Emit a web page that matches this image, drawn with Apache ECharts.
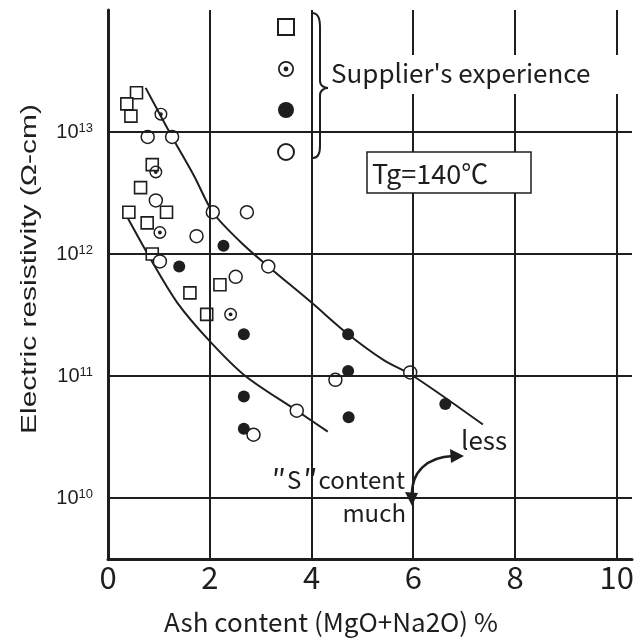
<!DOCTYPE html>
<html>
<head>
<meta charset="utf-8">
<title>Electric resistivity vs ash content</title>
<script src="https://cdn.jsdelivr.net/npm/echarts@6/dist/echarts.min.js"></script>
<style>
  html, body { margin: 0; padding: 0; background: #fff; }
  #main { width: 640px; height: 639px; }
</style>
</head>
<body>
<div id="main"></div>
<script>
// data: [ash content %, resistivity ohm-cm]
var squarePts = [[0.56, 2.1e13], [0.37, 1.7e13], [0.45, 1.35e13], [0.87, 5.4e12], [0.64, 3.5e12],
                 [0.41, 2.2e12], [1.15, 2.2e12], [0.77, 1.8e12], [0.87, 1.0e12], [1.61, 4.8e11],
                 [2.2, 5.6e11], [1.94, 3.2e11]];
var dotCirclePts = [[1.04, 1.4e13], [0.94, 4.7e12], [1.02, 1.5e12], [2.41, 3.2e11]];
var filledPts = [[2.27, 1.17e12], [1.4, 7.9e11], [2.67, 2.2e11], [4.72, 2.2e11], [4.72, 1.1e11],
                 [4.73, 4.6e10], [2.67, 6.8e10], [2.67, 3.7e10], [6.63, 5.9e10]];
var openPts = [[0.78, 9.1e12], [1.26, 9.1e12], [0.94, 2.75e12], [1.02, 8.7e11], [1.74, 1.4e12],
               [2.06, 2.2e12], [2.73, 2.2e12], [2.51, 6.5e11], [3.15, 7.9e11], [4.47, 9.3e10],
               [3.71, 5.2e10], [2.86, 3.3e10], [5.94, 1.07e11]];
// hand-drawn trend curves
var upperCurve = [[0.74, 2.3e13], [1.26, 9.1e12], [1.7, 4.3e12], [2.06, 2.2e12], [2.6, 1.26e12],
                  [3.15, 7.9e11], [4.0, 4.0e11], [4.72, 2.2e11], [5.42, 1.35e11], [6.0, 1.0e11],
                  [7.37, 4.0e10]];
var lowerCurve = [[0.38, 2.0e12], [0.85, 8.9e11], [1.36, 4.0e11], [1.99, 1.95e11], [2.7, 1.0e11],
                  [3.71, 5.2e10], [4.32, 3.5e10]];
// grid lines
var xGrid = [2, 4, 6, 8, 10];
var yGrid = [1e10, 1e11, 1e12, 1e13];
var seriesNames = ['square', 'dotCircle', 'filled', 'open'];

var INK = '#1e1e1e';
var JP = '"Noto Sans CJK JP", sans-serif';
var SANS = '"Liberation Sans", Arial, sans-serif';
// ring with a center dot
var dotCircleSymbol = 'path://M0,-10A10,10,0,1,1,0,10A10,10,0,1,1,0,-10Z' +
  'M0,-7.8A7.8,7.8,0,1,0,0,7.8A7.8,7.8,0,1,0,0,-7.8Z' +
  'M0,-3A3,3,0,1,1,0,3A3,3,0,1,1,0,-3Z';

var myChart = echarts.init(document.getElementById('main'));

var gridMarks = xGrid.map(function (v) { return { xAxis: v }; })
  .concat(yGrid.map(function (v) { return { yAxis: v }; }));

var option = {
  animation: false,
  backgroundColor: '#fff',
  grid: { left: 108, right: 8, top: 10, bottom: 80 },
  legend: {
    orient: 'vertical',
    left: 272, top: 13,
    itemWidth: 16, itemHeight: 16, itemGap: 25,
    selectedMode: false,
    data: seriesNames,
    formatter: function () { return ''; },
    textStyle: { fontSize: 1 }
  },
  xAxis: {
    type: 'value', min: 0, max: 10.3, interval: 2,
    axisLine: { lineStyle: { color: INK, width: 3 } },
    axisTick: { show: false },
    splitLine: { show: false },
    axisLabel: {
      color: INK, fontSize: 31, fontFamily: JP, margin: 3, showMaxLabel: false,
      formatter: function (v) { return v % 2 === 0 ? String(v) : ''; }
    }
  },
  yAxis: {
    type: 'log', logBase: 10, min: Math.pow(10, 9.5), max: 1e14,
    axisLine: { lineStyle: { color: INK, width: 3 } },
    axisTick: { show: false },
    splitLine: { show: false },
    axisLabel: {
      margin: 15,
      formatter: function (v) {
        var e = Math.log10(v);
        var r = Math.round(e);
        if (Math.abs(e - r) > 1e-6 || r < 10 || r > 13) return '';
        return '{b|10}{s|' + r + '}';
      },
      rich: {
        b: { fontSize: 20, fontFamily: SANS, color: INK },
        s: { fontSize: 13, fontFamily: SANS, color: INK, verticalAlign: 'top', padding: [0, 0, 7, 0] }
      }
    }
  },
  series: [
    {
      type: 'line', data: [], z: 1, silent: true,
      markLine: {
        silent: true, symbol: 'none', animation: false,
        label: { show: false },
        lineStyle: { color: INK, width: 2, type: 'solid' },
        emphasis: { disabled: true },
        data: gridMarks
      }
    },
    {
      type: 'line', data: upperCurve, smooth: 0.3, showSymbol: false, z: 2, silent: true,
      lineStyle: { color: INK, width: 2 }
    },
    {
      type: 'line', data: lowerCurve, smooth: 0.3, showSymbol: false, z: 2, silent: true,
      lineStyle: { color: INK, width: 2 }
    },
    {
      name: 'square', type: 'scatter', data: squarePts, symbol: 'rect', symbolSize: 12, z: 3,
      itemStyle: { color: '#fff', borderColor: INK, borderWidth: 1.6, opacity: 1 }
    },
    {
      name: 'dotCircle', type: 'scatter', data: dotCirclePts, symbol: dotCircleSymbol, symbolSize: 13, z: 3,
      itemStyle: { color: INK, opacity: 1 }
    },
    {
      name: 'filled', type: 'scatter', data: filledPts, symbol: 'circle', symbolSize: 12, z: 3,
      itemStyle: { color: INK, opacity: 1 }
    },
    {
      name: 'open', type: 'scatter', data: openPts, symbol: 'circle', symbolSize: 13, z: 3,
      itemStyle: { color: '#fff', borderColor: INK, borderWidth: 1.5, opacity: 1 }
    }
  ],
  graphic: [
    // axis titles
    { type: 'text', x: 30, y: 269, rotation: Math.PI / 2, scaleX: 1.36, z: 100,
      style: { text: 'Electric resistivity (Ω-cm)', fontSize: 22, fontFamily: SANS, fill: INK,
               align: 'center', verticalAlign: 'middle' } },
    { type: 'text', x: 331, y: 622, z: 100,
      style: { text: 'Ash content (MgO+Na2O) %', fontSize: 26, fontFamily: JP, fill: INK,
               align: 'center', verticalAlign: 'middle' } },
    // legend brace and caption
    { type: 'bezierCurve', z: 100, shape: { x1: 313, y1: 13, x2: 320, y2: 28, cpx1: 319, cpy1: 14, cpx2: 320, cpy2: 20 },
      style: { stroke: INK, lineWidth: 2, fill: null } },
    { type: 'line', z: 100, shape: { x1: 320, y1: 28, x2: 320, y2: 81 }, style: { stroke: INK, lineWidth: 2 } },
    { type: 'bezierCurve', z: 100, shape: { x1: 320, y1: 81, x2: 328, y2: 88, cpx1: 320, cpy1: 86, cpx2: 325, cpy2: 88 },
      style: { stroke: INK, lineWidth: 2, fill: null } },
    { type: 'bezierCurve', z: 100, shape: { x1: 328, y1: 88, x2: 320, y2: 95, cpx1: 325, cpy1: 88, cpx2: 320, cpy2: 90 },
      style: { stroke: INK, lineWidth: 2, fill: null } },
    { type: 'line', z: 100, shape: { x1: 320, y1: 95, x2: 320, y2: 146 }, style: { stroke: INK, lineWidth: 2 } },
    { type: 'bezierCurve', z: 100, shape: { x1: 320, y1: 146, x2: 313, y2: 158, cpx1: 320, cpy1: 154, cpx2: 318, cpy2: 158 },
      style: { stroke: INK, lineWidth: 2, fill: null } },
    { type: 'rect', z: 99, shape: { x: 328, y: 55, width: 298, height: 39 }, style: { fill: '#fff' } },
    { type: 'text', x: 331, y: 73, z: 100,
      style: { text: "Supplier's experience", fontSize: 26, fontFamily: JP, fill: INK,
               align: 'left', verticalAlign: 'middle' } },
    // Tg box
    { type: 'rect', z: 100, shape: { x: 367, y: 152, width: 164, height: 41 },
      style: { fill: '#fff', stroke: INK, lineWidth: 1.5 } },
    { type: 'text', x: 372, y: 174, z: 101,
      style: { text: 'Tg=140℃', fontSize: 27, fontFamily: JP, fill: INK, align: 'left', verticalAlign: 'middle' } },
    // "S" content annotation
    { type: 'text', x: 405, y: 480, z: 100,
      style: { text: '{q|″}S{q|″}content', fontSize: 24, fontFamily: JP, fill: INK, align: 'right', verticalAlign: 'middle',
               rich: { q: { fontSize: 30, fontFamily: JP, fill: INK, padding: [0, 1, 0, 2] } } } },
    { type: 'text', x: 406, y: 513, z: 100,
      style: { text: 'much', fontSize: 24, fontFamily: JP, fill: INK, align: 'right', verticalAlign: 'middle' } },
    { type: 'text', x: 461, y: 440, z: 100,
      style: { text: 'less', fontSize: 26, fontFamily: JP, fill: INK, align: 'left', verticalAlign: 'middle' } },
    { type: 'bezierCurve', z: 100, shape: { x1: 412, y1: 496, x2: 453, y2: 456, cpx1: 411, cpy1: 472, cpx2: 427, cpy2: 457 },
      style: { stroke: INK, lineWidth: 2.5, fill: null } },
    { type: 'polygon', z: 100, shape: { points: [[464, 456], [450, 449], [451, 463]] }, style: { fill: INK } },
    { type: 'polygon', z: 100, shape: { points: [[412, 506], [405, 492], [418, 493]] }, style: { fill: INK } }
  ]
};

myChart.setOption(option);
</script>
</body>
</html>
